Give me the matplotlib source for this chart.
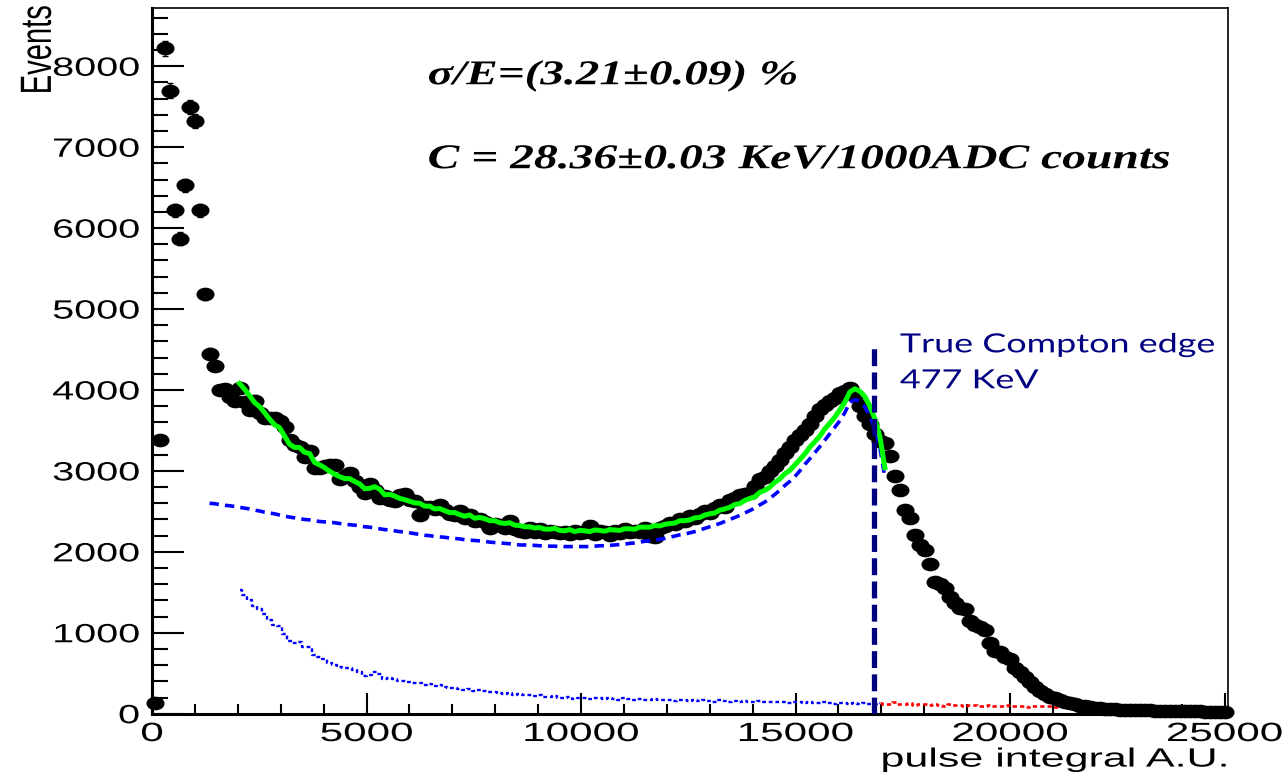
import numpy as np
import matplotlib
matplotlib.use("Agg")
import matplotlib.pyplot as plt
from matplotlib import patheffects as pe
from matplotlib.path import Path
from matplotlib.ticker import MultipleLocator
from matplotlib.transforms import Affine2D

# ---- data ----
bin_width = 116.6

# measured spectrum, one value per bin starting at 0
counts = [
    130, 3380, 8220, 7700, 6220, 5870, 6530, 7500, 7320, 6220,
    5180, 4450, 4300, 4000, 4010, 3910, 3870, 4020, 3850, 3750,
    3870, 3720, 3650, 3660, 3660, 3620, 3540, 3380, 3320, 3290,
    3170, 3250, 3030, 3040, 3060, 3070, 3070, 2900, 2940, 2970,
    2880, 2800, 2730, 2840, 2760, 2670, 2690, 2640, 2630, 2700,
    2720, 2640, 2630, 2450, 2560, 2560, 2530, 2580, 2520, 2470,
    2450, 2500, 2420, 2450, 2380, 2400, 2370, 2300, 2350, 2330,
    2300, 2380, 2280, 2260, 2250, 2300, 2240, 2280, 2230, 2260,
    2240, 2230, 2250, 2220, 2260, 2230, 2250, 2320, 2220, 2260,
    2240, 2210, 2260, 2230, 2280, 2250, 2260, 2240, 2290, 2200,
    2180, 2300, 2320, 2360, 2340, 2400, 2380, 2440, 2420, 2470,
    2500, 2480, 2540, 2580, 2560, 2640, 2660, 2700, 2720, 2730,
    2810, 2900, 2930, 3000, 3060, 3130, 3220, 3300, 3380, 3440,
    3510, 3580, 3680, 3760, 3820, 3860, 3900, 3960, 3990, 4020,
    3920, 3800, 3680, 3580, 3450, 3370, 3340, 3180, 2940, 2770,
    2520, 2420, 2210, 2080, 2020, 1850, 1630, 1600, 1550, 1440,
    1370, 1310, 1290, 1150, 1100, 1070, 1030, 870, 780, 760,
    700, 670, 560, 510, 450, 390, 330, 280, 240, 210,
    190, 165, 145, 130, 115, 100, 95, 85, 75, 70,
    62, 58, 55, 50, 48, 45, 44, 42, 40, 40,
    38, 36, 35, 34, 33, 32, 30, 30, 28, 28,
    27, 26, 25, 25, 24,
]

# smooth Compton-edge fit (blue dashed), bins 11..146
fit_start = 11
fit_smooth = [
    2600, 2595, 2585, 2575, 2570, 2560,
    2550, 2540, 2530, 2515, 2505, 2490, 2480, 2470, 2455, 2440,
    2430, 2420, 2410, 2400, 2395, 2385, 2375, 2370, 2365, 2360,
    2350, 2345, 2335, 2330, 2320, 2310, 2305, 2295, 2285, 2275,
    2270, 2260, 2250, 2245, 2235, 2225, 2215, 2205, 2200, 2190,
    2185, 2180, 2170, 2165, 2160, 2150, 2145, 2140, 2135, 2130,
    2120, 2115, 2110, 2105, 2100, 2095, 2085, 2085, 2080, 2080,
    2075, 2075, 2070, 2070, 2065, 2065, 2065, 2065, 2065, 2065,
    2065, 2070, 2075, 2075, 2080, 2085, 2090, 2095, 2105, 2110,
    2120, 2130, 2135, 2145, 2155, 2165, 2180, 2195, 2210, 2220,
    2235, 2250, 2270, 2290, 2310, 2330, 2350, 2375, 2400, 2425,
    2450, 2480, 2510, 2540, 2580, 2615, 2660, 2710, 2760, 2820,
    2870, 2930, 3000, 3080, 3150, 3225, 3300, 3380, 3460, 3540,
    3620, 3720, 3850, 3880, 3860, 3790, 3680, 3520, 3290, 2920,
]

# background histogram, blue part bins 17..144, red part bins 145..214
bkg_start = 17
bkg_blue = [
    1530, 1470, 1400, 1330, 1290, 1230, 1160, 1100, 1080, 990,
    900, 870, 880, 830, 820, 720, 700, 670, 630, 600,
    580, 560, 570, 540, 520, 470, 480, 510, 490, 430,
    440, 430, 410, 400, 390, 380, 385, 360, 365, 340,
    350, 330, 315, 320, 300, 290, 310, 275, 290, 280,
    265, 270, 250, 245, 260, 235, 240, 225, 230, 215,
    225, 205, 210, 220, 200, 195, 210, 185, 200, 195,
    185, 200, 190, 180, 195, 185, 175, 190, 180, 170,
    185, 175, 170, 180, 165, 175, 170, 160, 175, 165,
    160, 170, 155, 165, 160, 150, 165, 155, 150, 160,
    145, 155, 150, 140, 155, 145, 140, 150, 140, 145,
    135, 145, 140, 130, 145, 135, 130, 140, 130, 125,
    135, 130, 125, 135, 125, 130, 120, 125,
]
bkg_red = [
    135, 120, 125, 140, 115, 120, 130, 110, 125, 115,
    105, 120, 110, 100, 115, 105, 110, 95, 105, 110,
    95, 100, 105, 90, 100, 95, 105, 90, 100, 95,
    85, 100, 90, 95, 100, 85, 95, 90, 100, 85,
    95, 90, 80, 95, 90, 85, 95, 80, 90, 85,
    95, 80, 90, 85, 80, 90, 85, 95, 80, 85,
    90, 80, 85, 90, 80, 85, 75, 85, 80, 85,
]

edge_position = 16820
edge_top = 4520


class Widen(pe.AbstractPathEffect):
    """stretch glyphs horizontally, the reference canvas is stretched"""
    def __init__(self, sx=1.4, anchor="center"):
        super().__init__()
        self.sx = sx
        self.anchor = anchor

    def draw_path(self, renderer, gc, tpath, affine, rgbFace=None):
        ext = tpath.get_extents(affine)
        x0 = {"left": ext.x0, "right": ext.x1,
              "center": 0.5 * (ext.x0 + ext.x1)}[self.anchor]
        affine = affine + Affine2D().translate(-x0, 0).scale(self.sx, 1).translate(x0, 0)
        renderer.draw_path(gc, tpath, affine, rgbFace)


counts = np.array(counts, dtype=float)
centers = (np.arange(len(counts)) + 0.5) * bin_width
fit_x = centers[fit_start:fit_start + len(fit_smooth)]
bkg_all = np.array(bkg_blue + bkg_red, dtype=float)
bkg_x = centers[bkg_start:bkg_start + len(bkg_all)]
nb = len(bkg_blue)
# total fit = smooth part + background, over the fitted range
off = bkg_start - fit_start
total_fit = np.array(fit_smooth[off:], dtype=float) + bkg_all[:len(fit_smooth) - off]
total_x = fit_x[off:]

fig = plt.figure(figsize=(12.86, 7.77), dpi=100)
ax = fig.add_axes([152 / 1286, 1 - 713.7 / 777, 1076 / 1286, 705.7 / 777])

ax.plot(bkg_x[:nb + 1], bkg_all[:nb + 1], drawstyle="steps-mid", color="#0000ff",
        lw=1.7, linestyle=(0, (1.6, 1.2)))
ax.plot(bkg_x[nb:], bkg_all[nb:], drawstyle="steps-mid", color="#ff0000",
        lw=1.9, linestyle=(0, (1.6, 1.2)))
ax.plot(fit_x, fit_smooth, color="#0000ff", lw=2.6, linestyle=(0, (2.6, 1.7)), zorder=4)
ax.plot(total_x, total_fit, color="#00ff00", lw=3.6, zorder=5)

ell = Path.unit_circle()
ell = Path(ell.vertices * np.array([1.36, 1.0]), ell.codes)
ax.errorbar(centers, counts, yerr=np.sqrt(counts), fmt="none", ecolor="black",
            elinewidth=1.0, capsize=2.5, zorder=3)
ax.plot(centers, counts, linestyle="none", marker=ell, markersize=12,
        color="black", zorder=3, clip_on=False)

ax.vlines(edge_position, 0, edge_top, colors="#000080", lw=3.8,
          linestyles=[(0, (3.2, 1.2))], zorder=6)

ax.set_xlim(0, 25080)
ax.set_ylim(0, 8720)
ax.set_xticks(np.arange(0, 25001, 5000))
ax.set_yticks(np.arange(0, 8001, 1000))
ax.xaxis.set_minor_locator(MultipleLocator(1000))
ax.yaxis.set_minor_locator(MultipleLocator(200))
ax.tick_params(axis="both", which="both", direction="in", width=1.5,
               top=False, right=False)
ax.tick_params(axis="y", which="major", length=23, pad=9)
ax.tick_params(axis="y", which="minor", length=11.5)
ax.tick_params(axis="x", which="major", length=15, pad=6)
ax.tick_params(axis="x", which="minor", length=7.5)
for side, lw in [("left", 2.2), ("bottom", 2.2), ("top", 1.2), ("right", 1.2)]:
    ax.spines[side].set_linewidth(lw)

for lbl in ax.get_yticklabels():
    lbl.set_fontfamily("Liberation Sans")
    lbl.set_fontsize(19)
    lbl.set_path_effects([Widen(1.5, "right")])
for lbl in ax.get_xticklabels():
    lbl.set_fontfamily("Liberation Sans")
    lbl.set_fontsize(19)
    lbl.set_path_effects([Widen(1.6, "center")])

ax.set_xlabel("pulse integral A.U.", loc="right", fontsize=19,
              fontfamily="Liberation Sans",
              path_effects=[Widen(1.63, "right")])
ax.xaxis.set_label_coords(1.0, -0.048)
ax.set_ylabel("Events", loc="top", fontsize=21, fontfamily="Liberation Sans",
              path_effects=[Widen(1.5, "center")])
ax.yaxis.set_label_coords(-0.106, 1.004)
ax.yaxis.label.set_va("center")

ax.text(0.2565, 0.892, "σ/E=(3.21±0.09) %", transform=ax.transAxes,
        fontfamily="Liberation Serif", fontweight="bold", fontstyle="italic",
        fontsize=25, va="baseline", ha="left", path_effects=[Widen(1.36, "left")])
ax.text(0.2565, 0.773, "C = 28.36±0.03 KeV/1000ADC counts", transform=ax.transAxes,
        fontfamily="Liberation Serif", fontweight="bold", fontstyle="italic",
        fontsize=25, va="baseline", ha="left", path_effects=[Widen(1.37, "left")])

ax.text(17436, 4465, "True Compton edge", color="#000080", fontfamily="Lato",
        fontsize=19, va="baseline", ha="left", path_effects=[Widen(1.36, "left")])
ax.text(17436, 4021, "477 KeV", color="#000080", fontfamily="Lato",
        fontsize=19, va="baseline", ha="left", path_effects=[Widen(1.36, "left")])

fig.savefig("out.png", dpi=100)
